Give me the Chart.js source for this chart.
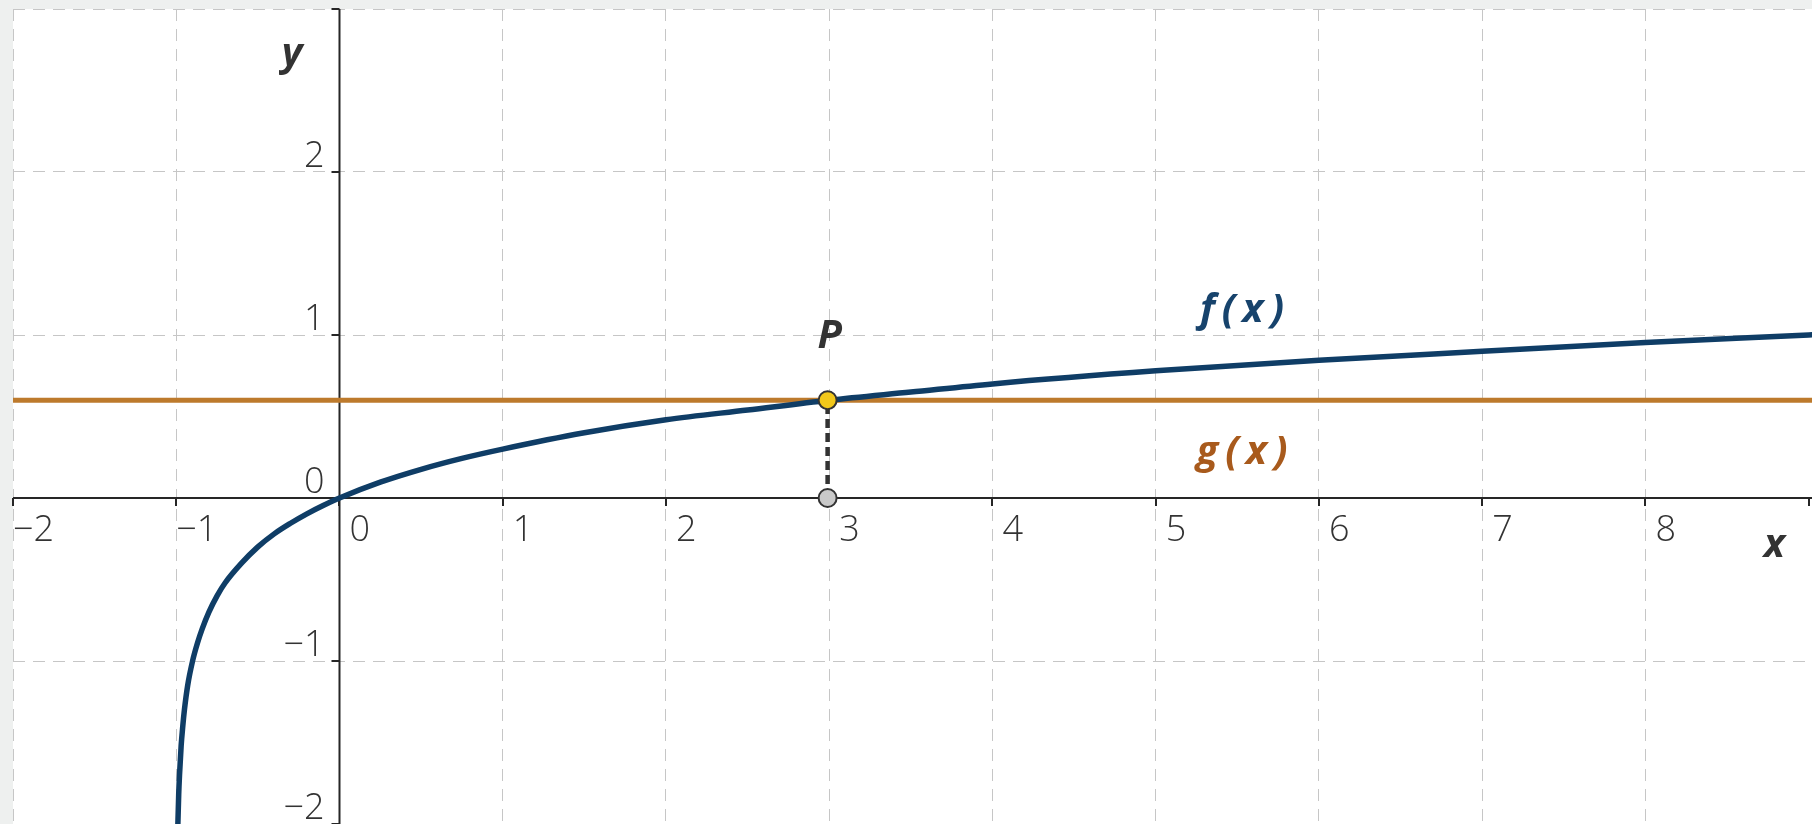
<!DOCTYPE html>
<html>
<head>
<meta charset="utf-8">
<script src="https://cdn.jsdelivr.net/npm/chart.js@4.4.1/dist/chart.umd.min.js"></script>
<style>
  html, body { margin: 0; padding: 0; background: #eef0ef; }
  #wrap { width: 1812px; height: 824px; }
</style>
</head>
<body>
<div id="wrap"><canvas id="graph" width="1812" height="824"></canvas></div>
<script>
  // f(x): points
  var fX = [-0.992, -0.99, -0.985, -0.98, -0.97, -0.96, -0.95, -0.93, -0.9, -0.87, -0.84, -0.8, -0.75, -0.7,
            -0.6, -0.5, -0.4, -0.3, -0.2, -0.1, 0, 0.25, 0.5, 0.75, 1, 1.5, 2, 2.5, 3, 3.5, 4, 5, 6, 7, 8, 9, 9.2];
  var fY = [-2.1, -2.0, -1.82, -1.70, -1.52, -1.40, -1.30, -1.15, -1.0, -0.89, -0.80, -0.70, -0.60, -0.52,
            -0.40, -0.30, -0.22, -0.155, -0.097, -0.046, 0, 0.097, 0.176, 0.243, 0.30, 0.40, 0.48, 0.54, 0.60,
            0.65, 0.70, 0.78, 0.845, 0.90, 0.954, 1.0, 1.01];

  // g(x): the horizontal line
  var gX = [-2.5, 9.5];
  var gY = [0.6, 0.6];

  // P and its foot on the x-axis
  var pX = [2.99];
  var pY = [0.6];
  var footY = [0];

  var xTicks = [-2, -1, 0, 1, 2, 3, 4, 5, 6, 7, 8];
  var yTicks = [2, 1, 0, -1, -2];
  var curveNames = ["f(x)", "g(x)"];

  function pts(xs, ys) {
    return xs.map(function (x, i) { return { x: x, y: ys[i] }; });
  }

  function fmt(v) {
    return v < 0 ? "\u2212" + Math.abs(v) : String(v);
  }

  var tickFont = "300 36px 'Open Sans', 'DejaVu Sans', sans-serif";
  var nameFont = "italic bold 40px 'Open Sans', 'DejaVu Sans', sans-serif";

  var axesPlugin = {
    id: "axes",
    beforeDraw: function (chart) {
      var a = chart.chartArea, ctx = chart.ctx;
      ctx.save();
      ctx.fillStyle = "#ffffff";
      ctx.fillRect(a.left, a.top, a.right - a.left, a.bottom - a.top);
      ctx.restore();
    },
    beforeDatasetsDraw: function (chart) {
      var ctx = chart.ctx, a = chart.chartArea;
      var xs = chart.scales.x, ys = chart.scales.y;
      var x0 = xs.getPixelForValue(0), y0 = ys.getPixelForValue(0);
      var v, px, py;

      ctx.save();
      ctx.strokeStyle = "#262626";
      ctx.lineWidth = 2;
      ctx.beginPath();
      ctx.moveTo(a.left, y0); ctx.lineTo(a.right, y0);
      ctx.moveTo(x0, a.top); ctx.lineTo(x0, a.bottom);
      for (v = Math.ceil(xs.min); v <= Math.floor(xs.max); v++) {
        px = Math.round(xs.getPixelForValue(v));
        ctx.moveTo(px, y0); ctx.lineTo(px, y0 + 8);
      }
      for (v = Math.ceil(ys.min); v <= Math.floor(ys.max); v++) {
        py = Math.round(ys.getPixelForValue(v));
        ctx.moveTo(x0, py); ctx.lineTo(x0 - 8, py);
      }
      ctx.stroke();

      ctx.fillStyle = "#333333";
      ctx.font = tickFont;
      ctx.textBaseline = "alphabetic";
      ctx.textAlign = "left";
      xTicks.forEach(function (t) {
        px = xs.getPixelForValue(t);
        ctx.fillText(fmt(t), px + (t < 0 ? 0 : 10), y0 + 43);
      });
      ctx.textAlign = "right";
      yTicks.forEach(function (t) {
        py = ys.getPixelForValue(t);
        ctx.fillText(fmt(t), x0 - 15, py - 5);
      });
      ctx.restore();
    },
    afterDatasetsDraw: function (chart) {
      var ctx = chart.ctx;
      var xs = chart.scales.x, ys = chart.scales.y;
      ctx.save();
      ctx.font = nameFont;
      ctx.textAlign = "center";
      ctx.textBaseline = "middle";
      ctx.letterSpacing = "7px";
      ctx.fillStyle = "#17436c";
      ctx.fillText(curveNames[0], xs.getPixelForValue(5.55), ys.getPixelForValue(1.15));
      ctx.fillStyle = "#a85a1c";
      ctx.fillText(curveNames[1], xs.getPixelForValue(5.55), ys.getPixelForValue(0.28));
      ctx.letterSpacing = "0px";
      ctx.fillStyle = "#333333";
      ctx.fillText("P", xs.getPixelForValue(pX[0]) + 2, ys.getPixelForValue(0.99));
      ctx.fillText("x", xs.getPixelForValue(8.79), ys.getPixelForValue(-0.29));
      ctx.fillText("y", xs.getPixelForValue(-0.29), ys.getPixelForValue(2.72));
      ctx.restore();
    }
  };

  new Chart(document.getElementById("graph"), {
    type: "scatter",
    data: {
      datasets: [
        {
          label: "P",
          data: pts(pX, pY),
          pointRadius: 9,
          pointBackgroundColor: "#f2c81a",
          pointBorderColor: "#333333",
          pointBorderWidth: 2,
          order: 0
        },
        {
          label: "foot",
          data: pts(pX, footY),
          pointRadius: 9,
          pointBackgroundColor: "#c9c9c9",
          pointBorderColor: "#333333",
          pointBorderWidth: 2,
          order: 1
        },
        {
          label: "PQ",
          data: pts([pX[0], pX[0]], [footY[0], pY[0]]),
          showLine: true,
          borderColor: "#333333",
          borderWidth: 4.5,
          borderDash: [9, 5],
          pointRadius: 0,
          order: 2
        },
        {
          label: "f(x)",
          data: pts(fX, fY),
          showLine: true,
          borderColor: "#0f3d66",
          borderWidth: 5.5,
          cubicInterpolationMode: "monotone",
          pointRadius: 0,
          clip: 0,
          order: 3
        },
        {
          label: "g(x)",
          data: pts(gX, gY),
          showLine: true,
          borderColor: "#bd7a2c",
          borderWidth: 5,
          pointRadius: 0,
          clip: 0,
          order: 4
        }
      ]
    },
    options: {
      responsive: false,
      animation: false,
      events: [],
      layout: { autoPadding: false, padding: { left: 13, top: 9, right: 0, bottom: 0 } },
      scales: {
        x: {
          type: "linear",
          min: -2,
          max: 9.02,
          ticks: { display: false, stepSize: 1 },
          grid: { color: "#c6c6c6", lineWidth: 1, drawTicks: false },
          border: { display: false, dash: [12, 8] },
          afterFit: function (scale) { scale.height = 0; }
        },
        y: {
          type: "linear",
          min: -2,
          max: 3,
          ticks: { display: false, stepSize: 1 },
          grid: { color: "#c6c6c6", lineWidth: 1, drawTicks: false },
          border: { display: false, dash: [12, 8] },
          afterFit: function (scale) { scale.width = 0; }
        }
      },
      plugins: {
        legend: { display: false },
        tooltip: { enabled: false }
      }
    },
    plugins: [axesPlugin]
  });
</script>
</body>
</html>
